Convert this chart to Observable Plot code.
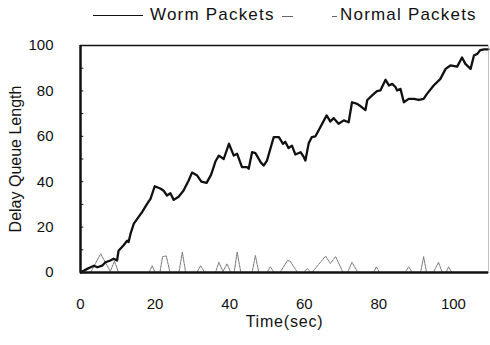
<!DOCTYPE html>
<html>
<head>
<meta charset="utf-8">
<script src="https://cdn.jsdelivr.net/npm/d3@7"></script>
<script src="https://cdn.jsdelivr.net/npm/@observablehq/plot@0.6"></script>
<style>
  html, body { margin: 0; padding: 0; background: #fff; }
  body { width: 490px; height: 345px; overflow: hidden; font-family: "Liberation Sans", Arial, sans-serif; }
  #legend { position: relative; height: 30px; width: 490px; }
  #legend .txt { position: absolute; top: 5px; font-size: 17px; letter-spacing: 1.2px; line-height: 20px; color: #111; }
  #legend .seg { position: absolute; height: 0; }
</style>
</head>
<body>
<div id="legend">
  <span class="seg" style="left:93px; width:50px; top:15px; border-top:1.5px solid #111;"></span>
  <span class="txt" style="left:150px;">Worm Packets</span>
  <span class="seg" style="left:282px; width:11px; top:16px; border-top:1px solid #666;"></span>
  <span class="seg" style="left:332px; width:5px; top:16px; border-top:1px solid #666;"></span>
  <span class="txt" style="left:340px;">Normal Packets</span>
</div>
<div id="chart"></div>
<script>
// ---- data ----
const wormTime = [0, 1.8, 2.7, 3.6, 4.5, 5.8, 6.7, 8.0, 8.9, 9.8, 10.2, 11.5, 12.5, 12.9, 13.4, 14.3, 16.5, 17.9, 18.8, 19.9,
  21.4, 22.3, 23.2, 24.1, 25.0, 26.3, 27.6, 29.0, 29.9, 31.3, 32.4, 33.8, 35.0, 36.2, 37.1, 38.4, 39.8, 41.1, 42.0, 43.3,
  44.7, 45.1, 46.0, 46.9, 48.3, 49.1, 50.0, 51.8, 53.2, 54.3, 54.9, 55.8, 56.7, 57.6, 59.0, 59.9, 60.3, 61.2, 62.0, 63.0,
  64.3, 66.0, 67.0, 67.9, 69.2, 70.6, 71.9, 72.8, 74.2, 75.3, 76.4, 76.9, 78.2, 79.5, 80.4, 81.8, 82.7, 83.6, 84.5, 84.9,
  85.8, 86.7, 88.0, 89.4, 90.7, 92.0, 92.9, 94.7, 96.5, 97.9, 99.2, 101.0, 102.3, 103.2, 104.6, 105.5, 106.4, 107.2, 108.2, 109.4];
const wormQueue = [0, 1.6, 2.3, 3.0, 2.3, 3.0, 4.5, 5.3, 6.1, 5.3, 9.6, 11.9, 14.0, 13.4, 17.0, 21.5, 26.6, 30.3, 32.5, 38.0,
  37.0, 36.0, 33.9, 34.9, 32.0, 33.4, 36.0, 40.5, 44.0, 42.7, 40.0, 39.5, 43.0, 49.0, 51.5, 50.0, 56.7, 51.5, 52.3, 46.4,
  46.4, 45.7, 53.0, 52.6, 48.6, 47.1, 49.3, 59.6, 59.6, 56.7, 57.6, 54.8, 55.9, 52.0, 53.0, 50.8, 49.3, 57.0, 59.6, 60.0,
  64.0, 69.2, 66.5, 68.0, 65.5, 67.0, 66.2, 75.0, 74.3, 73.0, 71.6, 76.0, 78.0, 79.9, 80.2, 84.9, 82.4, 83.1, 81.6, 80.2,
  80.9, 75.0, 76.5, 76.5, 76.0, 76.5, 78.7, 82.4, 85.3, 89.7, 91.2, 90.7, 94.7, 91.9, 89.7, 95.6, 96.3, 98.0, 98.3, 98.3];

const normalTime = [0, 2.7, 5.4, 8.0, 9.1, 10.2, 18.4, 19.2, 20.0, 21.3, 22.0, 23.0, 24.0, 26.4, 27.3, 28.2, 31.2, 32.2, 33.3,
  36.2, 37.1, 38.2, 39.3, 40.3, 41.2, 42.0, 43.0, 46.0, 46.9, 47.8, 50.0, 50.9, 51.9, 53.5, 55.5, 56.2, 58.2, 59.8, 60.8, 61.8,
  62.3, 65.7, 67.0, 68.4, 70.4, 71.6, 72.8, 74.4, 78.6, 79.3, 80.2, 87.0, 88.0, 89.0, 91.2, 92.0, 92.8, 94.6, 96.0, 97.0,
  98.0, 98.7, 99.6, 109.4];
const normalQueue = [0, 0, 8.2, 0.5, 5.0, 0, 0, 3.0, 0, 0, 7.0, 7.3, 0, 0, 9.0, 0, 0, 3.0, 0,
  0, 4.5, 0.5, 3.8, 0, 0, 9.0, 0, 0, 7.5, 0, 0, 2.5, 0, 0, 5.3, 5.0, 0, 0, 1.8, 0,
  0.5, 7.2, 4.0, 7.0, 0, 0, 4.5, 0, 0, 2.5, 0, 0, 2.5, 0, 0, 7.0, 0, 0, 4.5, 0,
  0, 2.5, 0, 0];

const xTickLabels = [0, 20, 40, 60, 80, 100];
const yTickLabels = [0, 20, 40, 60, 80, 100];
const yMinorTicks = [10, 20, 30, 40, 50, 60, 70, 80, 90];
const xMax = 109.4;

const worm = wormTime.map((t, i) => ({t, v: wormQueue[i]}));
const normal = normalTime.map((t, i) => ({t, v: normalQueue[i]}));

const chart = Plot.plot({
  width: 490,
  height: 315,
  marginLeft: 80,
  marginRight: 2,
  marginTop: 15,
  marginBottom: 73,
  style: {fontFamily: "'Liberation Sans', Arial, sans-serif", fontSize: "15px", color: "#111", background: "#fff", overflow: "visible"},
  x: {domain: [0, xMax]},
  y: {domain: [0, 100]},
  marks: [
    Plot.axisX({ticks: xTickLabels, tickSize: 0, tickPadding: 26, label: "Time(sec)", labelAnchor: "center", labelArrow: "none", labelOffset: 54, fontSize: 15}),
    Plot.axisY({ticks: yTickLabels, tickSize: 0, tickPadding: 27, label: "Delay Queue Length", labelAnchor: "center", labelArrow: "none", labelOffset: 71, fontSize: 15}),
    Plot.ruleY(yMinorTicks, {x1: 0, x2: 0.9, stroke: "#111", strokeWidth: 1}),
    Plot.line(normal, {x: "t", y: "v", stroke: "#777", strokeWidth: 1, strokeDasharray: "2.5,1"}),
    Plot.line(worm, {x: "t", y: "v", stroke: "#111", strokeWidth: 2.3, curve: "linear"}),
    Plot.ruleX([xMax], {stroke: "#999", strokeWidth: 1, strokeOpacity: 0.6}),
    Plot.ruleY([100], {stroke: "#111", strokeWidth: 1.5}),
    Plot.ruleY([0], {stroke: "#111", strokeWidth: 2.5}),
    Plot.ruleX([0], {stroke: "#111", strokeWidth: 2.5})
  ]
});
d3.select(chart).selectAll('g[aria-label="x-axis label"] text')
  .style("font-size", "16px").style("letter-spacing", "0.8px");
d3.select(chart).selectAll('g[aria-label="y-axis label"] text')
  .style("font-size", "16px");
document.getElementById("chart").appendChild(chart);
</script>
</body>
</html>
